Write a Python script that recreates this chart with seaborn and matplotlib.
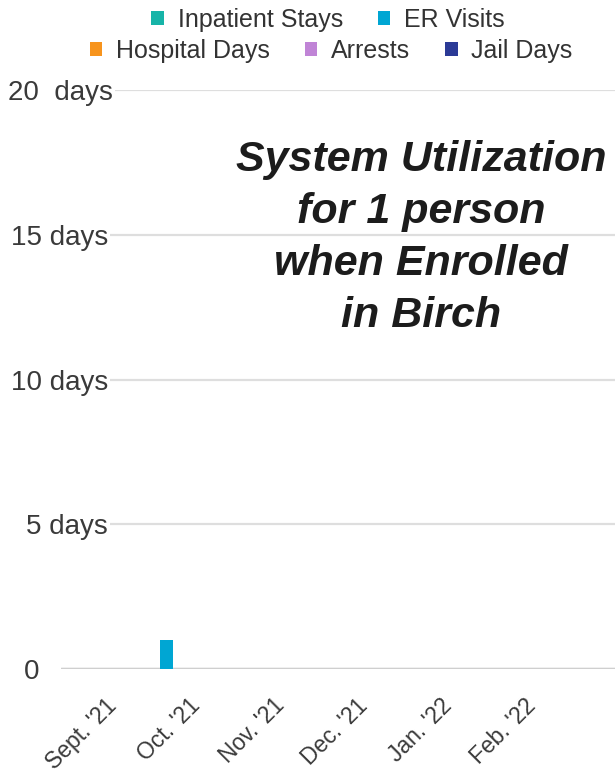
import numpy as np
import pandas as pd
import matplotlib
matplotlib.use("Agg")
import matplotlib.pyplot as plt
from matplotlib.patches import Patch
from matplotlib.transforms import ScaledTranslation
import seaborn as sns

months = ["Sept. '21", "Oct. '21", "Nov. '21", "Dec. '21", "Jan. '22", "Feb. '22"]
series = ["Inpatient Stays", "ER Visits", "Hospital Days", "Arrests", "Jail Days"]
inpatient_stays = [0, 0, 0, 0, 0, 0]
er_visits = [0, 1, 0, 0, 0, 0]
hospital_days = [0, 0, 0, 0, 0, 0]
arrests = [0, 0, 0, 0, 0, 0]
jail_days = [0, 0, 0, 0, 0, 0]
colors = ["#17b4a8", "#00a6d3", "#f7941d", "#c084d6", "#2b3a96"]
y_ticks = [0, 5, 10, 15, 20]
y_tick_labels = ["0", "5 days", "10 days", "15 days", "20  days"]
title = "System Utilization\nfor 1 person\nwhen Enrolled\nin Birch"

values = [inpatient_stays, er_visits, hospital_days, arrests, jail_days]
df = pd.DataFrame({
    "month": [m for s in values for m in months],
    "series": [name for name, s in zip(series, values) for _ in s],
    "value": [v for s in values for v in s],
})

sns.set_theme(style="white")
plt.rcParams["font.family"] = ["Liberation Sans", "DejaVu Sans"]

W, H = 615, 776
fig = plt.figure(figsize=(W / 100, H / 100), dpi=100)
ax = fig.add_axes([61 / W, (H - 669) / H, 1 - 61 / W, (669 - 90) / H])

sns.barplot(data=df, x="month", y="value", hue="series", order=months,
            hue_order=series, palette=colors, saturation=1, width=0.8,
            linewidth=0, legend=False, ax=ax, zorder=3)

ax.set_xlim(-0.42, 6.18)
ax.set_ylim(0, 20)
for s in ax.spines.values():
    s.set_visible(False)

# gridlines and baseline
ax.set_yticks(y_ticks)
ax.set_yticklabels(y_tick_labels)
ax.yaxis.grid(True, color="#dedede", linewidth=1.6, zorder=0)
ax.xaxis.grid(False)
ax.axhline(0, color="#cfcfcf", linewidth=2.5, zorder=2)

ax.tick_params(axis="y", length=0, pad=-34, labelsize=20, colors="#3a3a3a")
for lab in ax.get_yticklabels():
    lab.set_horizontalalignment("right")
    lab.set_bbox(dict(facecolor="white", edgecolor="none", pad=1))
    lab.set_zorder(5)
    if lab.get_text() == "0":
        lab.set_transform(lab.get_transform() + ScaledTranslation(-0.69, 0, fig.dpi_scale_trans))
    elif lab.get_text().startswith("20"):
        lab.set_transform(lab.get_transform() + ScaledTranslation(0.05, 0, fig.dpi_scale_trans))

ax.set_xticks(np.arange(len(months)) + 0.10)
ax.set_xticklabels(months, rotation=45, ha="right", va="top",
                   rotation_mode="anchor", fontsize=16.5, color="#3a3a3a")
ax.tick_params(axis="x", length=0, pad=18)
ax.set_xlabel("")
ax.set_ylabel("")

# title inside plot
fig.text(421 / W, 1 - 238 / H, title, ha="center", va="center",
         fontsize=31, fontweight="bold", fontstyle="italic",
         color="#1c1c1c", linespacing=1.38)

# legend in two rows
handles = [Patch(facecolor=c, edgecolor="none", label=s) for s, c in zip(series, colors)]
leg_kw = dict(frameon=False, fontsize=18, handlelength=0.5, handleheight=0.5,
              handletextpad=0.55, columnspacing=1.4, labelcolor="#333333",
              borderaxespad=0, borderpad=0)
leg1 = fig.legend(handles=handles[:2], loc="center", ncol=2,
                  bbox_to_anchor=(328 / W, 1 - 20 / H), **leg_kw)
leg2 = fig.legend(handles=handles[2:], loc="center", ncol=3,
                  bbox_to_anchor=(331 / W, 1 - 51 / H), **leg_kw)

fig.savefig("out.png", dpi=100)
